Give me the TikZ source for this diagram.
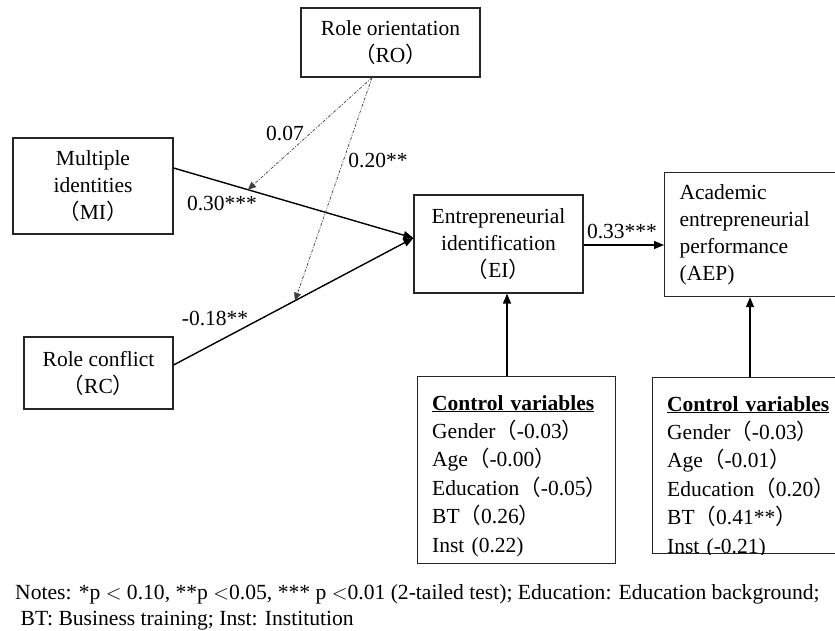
\documentclass[tikz,border=0pt]{standalone}
\usepackage{fontspec}
\setmainfont{Liberation Serif}
\newfontfamily\cjkfont{Noto Sans CJK SC}
\usetikzlibrary{arrows.meta,calc}
\newcommand\flp{{\cjkfont （}}
\newcommand\frp{{\cjkfont ）}}
\newcommand\mainfs{\fontsize{21.5}{27}\selectfont}
\newcommand\ctrlfs{\fontsize{21.5}{28.4}\selectfont}
\begin{document}
\begin{tikzpicture}[x=1pt,y=-1pt,
  box/.style={draw=black!85, line width=1.2pt, inner sep=0pt, align=center, font=\mainfs},
  ctrlbox/.style={draw=black!85, line width=1.2pt, inner sep=0pt, anchor=north west},
  ctrltext/.style={anchor=base west, inner sep=0pt, text width=180pt, align=left, font=\ctrlfs},
  path/.style={line width=1.4pt, -{Triangle[length=10pt,width=8pt]}},
  moder/.style={line width=0.7pt, black!75, dash pattern=on 3pt off 1.5pt on 1pt off 1.5pt, -{Triangle[length=8pt,width=7pt]}},
  lbl/.style={inner sep=0pt, font=\mainfs, anchor=base}]
\useasboundingbox (0,0) rectangle (835,630);

\node[box, minimum width=179pt, minimum height=69pt] (RO) at (390.5,42.5) {Role orientation\\\flp RO\frp};
\node[box, minimum width=160pt, minimum height=96pt] (MI) at (93,186) {Multiple\\identities\\\flp MI\frp};
\node[box, minimum width=149pt, minimum height=72pt] (RC) at (98.5,373) {Role conflict\\\flp RC\frp};
\node[box, minimum width=169pt, minimum height=98pt] (EI) at (498.5,244) {Entrepreneurial\\identification\\\flp EI\frp};
\node[box, anchor=north west, minimum width=190pt, minimum height=124pt, inner xsep=15pt, text width=160pt, align=left] (AEP) at (664,172) {Academic\\entrepreneurial\\performance\\(AEP)};

\node[ctrlbox, minimum width=198pt, minimum height=187pt] (C1) at (417,376) {};
\node[ctrltext] (C1t) at (432,410) {\underline{\textbf{Control variables}}\\Gender\flp -0.03\frp\\Age\flp -0.00\frp\\Education\flp -0.05\frp\\BT\flp 0.26\frp\\Inst (0.22)};

\node[ctrlbox, minimum width=200pt, minimum height=176pt] (C2) at (652,377) {};
\begin{scope}
\clip (C2.south west) rectangle (C2.north east);
\node[ctrltext] (C2t) at (667,411) {\underline{\textbf{Control variables}}\\Gender\flp -0.03\frp\\Age\flp -0.01\frp\\Education\flp 0.20\frp\\BT\flp 0.41**\frp\\Inst (-0.21)};
\end{scope}

\draw[path] ([yshift=18pt]MI.east) -- coordinate[pos=0.31] (m1) ([yshift=6pt]EI.west);
\draw[path] ([yshift=8pt]RC.east) -- coordinate[pos=0.506] (m2) ([yshift=6pt]EI.west);
\draw[path] ([yshift=-1pt]EI.east) -- ([yshift=-1pt]AEP.west |- EI.east);
\draw[path] (C1.north -| 507,0) -- (EI.south -| 507,0);
\draw[path] (C2.north -| 750,0) -- (AEP.south -| 750,0);

\coordinate (ro) at ([xshift=-18.5pt]RO.south);
\draw[moder] (ro) -- (m1);
\draw[moder] (ro) -- (m2);

\node[lbl] (l07) at (285,140) {0.07};
\node[lbl] (l20) at (378,167) {0.20**};
\node[lbl] (l30) at (222,210) {0.30***};
\node[lbl] (l18) at (215,325) {-0.18**};
\node[lbl] (l33) at (622,238) {0.33***};

\node[anchor=base west, inner sep=0pt, align=left, font=\fontsize{21.6}{26}\selectfont] (notes) at (15,625) {Notes: *p $<$ 0.10, **p $<$0.05, *** p $<$0.01 (2-tailed test); Education: Education background;\\\ BT: Business training; Inst: Institution};
\end{tikzpicture}
\end{document}
